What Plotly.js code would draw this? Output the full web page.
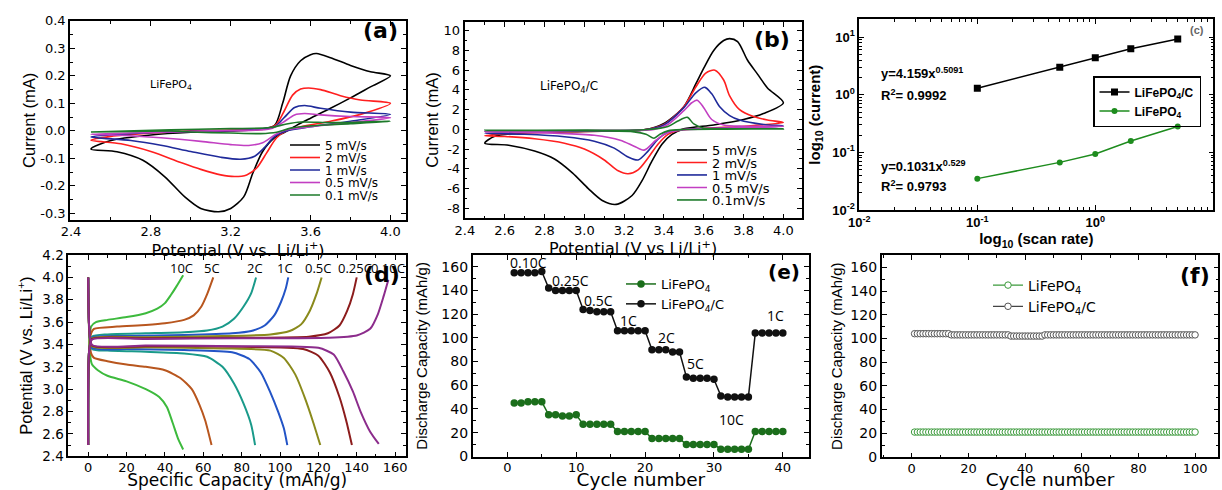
<!DOCTYPE html>
<html><head><meta charset="utf-8">
<script src="https://cdn.plot.ly/plotly-3.0.1.min.js"></script>
<style>html,body{margin:0;padding:0;background:#fff}#chart{width:1222px;height:490px}</style>
</head><body><div id="chart"></div>
<script>
// ---------------- data: (a) CV of LiFePO4 ----------------
const aNames = ['5 mV/s','2 mV/s','1 mV/s','0.5 mV/s','0.1 mV/s'];
const a5x = [2.5,2.6,2.8,3.0,3.2,3.35,3.42,3.46,3.5,3.55,3.6,3.63,3.7,3.8,3.9,4.0,3.9,3.8,3.7,3.6,3.53,3.47,3.42,3.36,3.31,3.265,3.2,3.14,3.05,2.97,2.87,2.76,2.63,2.5];
const a5y = [-0.066,-0.035,-0.015,-0.005,0.0,0.006,0.02,0.1,0.2,0.255,0.277,0.281,0.266,0.238,0.215,0.2,0.16,0.12,0.082,0.046,0.02,-0.005,-0.025,-0.075,-0.155,-0.24,-0.282,-0.294,-0.282,-0.24,-0.167,-0.107,-0.076,-0.066];
const a2x = [2.5,2.6,2.8,3.0,3.2,3.38,3.43,3.47,3.51,3.55,3.59,3.65,3.75,3.85,4.0,3.85,3.7,3.55,3.48,3.43,3.38,3.33,3.28,3.22,3.15,3.05,2.95,2.8,2.65,2.5];
const a2y = [-0.034,-0.02,-0.008,0.0,0.003,0.008,0.025,0.075,0.13,0.152,0.156,0.15,0.128,0.112,0.1,0.06,0.035,0.015,0.0,-0.025,-0.08,-0.135,-0.16,-0.166,-0.16,-0.14,-0.115,-0.075,-0.047,-0.034];
const a1x = [2.5,2.7,3.0,3.3,3.42,3.47,3.52,3.57,3.65,3.8,4.0,3.8,3.6,3.48,3.42,3.37,3.32,3.25,3.15,3.0,2.85,2.7,2.5];
const a1y = [-0.022,-0.01,-0.002,0.004,0.015,0.05,0.085,0.092,0.082,0.068,0.06,0.035,0.015,0.0,-0.02,-0.06,-0.092,-0.103,-0.096,-0.075,-0.052,-0.035,-0.022];
const a05x = [2.5,2.8,3.1,3.4,3.46,3.52,3.57,3.65,3.8,4.0,3.8,3.6,3.47,3.42,3.36,3.29,3.2,3.05,2.85,2.65,2.5];
const a05y = [-0.012,-0.006,0.0,0.008,0.03,0.058,0.063,0.058,0.052,0.048,0.03,0.015,0.002,-0.015,-0.043,-0.053,-0.05,-0.038,-0.025,-0.016,-0.012];
const a01x = [2.5,2.9,3.2,3.4,3.48,3.55,3.7,3.85,4.0,3.8,3.6,3.5,3.43,3.35,3.2,3.0,2.9,2.7,2.5];
const a01y = [-0.004,0.004,0.008,0.012,0.025,0.032,0.03,0.032,0.035,0.026,0.018,0.01,-0.005,-0.01,-0.008,-0.004,0.0,-0.002,-0.004];
const aYTickVals = [-0.3,-0.2,-0.1,0,0.1,0.2,0.3,0.4];
const aYTickText = ['-0.3','-0.2','-0.1','0.0','0.1','0.2','0.3','0.4'];

// ---------------- data: (b) CV of LiFePO4/C ----------------
const bNames = ['5 mV/s','2 mV/s','1 mV/s','0.5 mV/s','0.1mV/s'];
const b5x = [2.5,2.55,2.7,3.0,3.3,3.4,3.5,3.56,3.6,3.65,3.7,3.73,3.77,3.82,3.87,3.92,4.0,3.9,3.8,3.65,3.5,3.44,3.39,3.34,3.29,3.24,3.16,3.09,3.02,2.94,2.85,2.75,2.62,2.5];
const b5y = [-1.4,-0.7,-0.35,-0.2,-0.05,0.6,2.3,4.6,6.2,8.0,9.0,9.2,8.9,7.0,5.6,4.2,2.7,1.6,1.0,0.45,0.05,-0.5,-1.5,-3.2,-5.2,-6.7,-7.6,-7.2,-6.0,-4.4,-3.0,-2.2,-1.6,-1.4];
const b2x = [2.5,2.6,2.8,3.0,3.3,3.4,3.5,3.56,3.61,3.656,3.7,3.73,3.78,3.85,3.92,4.0,3.85,3.7,3.55,3.47,3.42,3.37,3.32,3.27,3.22,3.17,3.1,3.0,2.9,2.75,2.6,2.5];
const b2y = [-0.65,-0.45,-0.3,-0.2,-0.05,0.5,2.3,4.3,5.7,6.0,5.0,3.4,2.0,1.3,0.95,0.7,0.4,0.2,0.05,-0.1,-0.5,-1.5,-2.9,-4.1,-4.5,-4.2,-3.1,-2.0,-1.4,-0.95,-0.72,-0.65];
const b1x = [2.5,2.7,3.0,3.3,3.4,3.5,3.56,3.606,3.64,3.68,3.73,3.78,3.9,4.0,3.8,3.6,3.48,3.42,3.37,3.32,3.27,3.22,3.15,3.05,2.9,2.7,2.5];
const b1y = [-0.4,-0.28,-0.16,-0.05,0.45,2.2,3.7,4.26,3.6,2.3,1.4,0.95,0.5,0.35,0.2,0.08,-0.05,-0.3,-1.0,-2.2,-3.1,-2.8,-1.9,-1.2,-0.75,-0.5,-0.4];
const b05x = [2.5,2.8,3.1,3.35,3.42,3.5,3.54,3.567,3.6,3.64,3.7,3.8,4.0,3.8,3.6,3.47,3.41,3.36,3.3,3.25,3.18,3.05,2.85,2.65,2.5];
const b05y = [-0.25,-0.18,-0.1,0.0,0.5,1.9,2.7,2.96,2.2,1.0,0.45,0.32,0.3,0.18,0.05,-0.1,-0.4,-1.1,-2.1,-1.7,-1.1,-0.6,-0.38,-0.28,-0.25];
const b01x = [2.5,3.0,3.3,3.42,3.47,3.517,3.55,3.6,3.7,4.0,3.7,3.5,3.42,3.38,3.35,3.31,3.25,3.1,2.9,2.5];
const b01y = [-0.1,-0.08,-0.04,0.3,0.85,1.22,0.55,0.12,0.06,0.05,0.02,-0.02,-0.15,-0.5,-0.9,-0.5,-0.25,-0.15,-0.12,-0.1];
const bYTickVals = [-8,-6,-4,-2,0,2,4,6,8,10];
const bYTickText = ['-8','-6','-4','-2','0','2','4','6','8','10'];
const cvColors = ['#000000','#ff1f1f','#1f2a9a','#c23fc2','#1d7a2a'];

// ---------------- data: (c) peak current vs scan rate ----------------
const cRate = [0.1,0.5,1,2,5];
const cCurrC = [1.3,3.0,4.4,6.3,9.3];
const cCurr = [0.035,0.067,0.094,0.157,0.282];
const cNames = ['LiFePO<sub>4</sub>/C','LiFePO<sub>4</sub>'];
const cTickVals = [0.01,0.1,1,10];
const cTickText = ['10<sup>-2</sup>','10<sup>-1</sup>','10<sup>0</sup>','10<sup>1</sup>'];

// ---------------- data: (d) charge / discharge profiles ----------------
const dRates = ['10C','5C','2C','1C','0.5C','0.25C','0.10C'];
const dColors = ['#3dba3d','#b8561e','#1a9a8a','#2354c6','#8a8a1c','#8c1c1c','#8c2c8c'];
const d10cx = [0,0.3,1.5,4,10,20,30,36,40,43,46,49.5];
const d10cy = [2.5,3.3,3.56,3.6,3.62,3.645,3.68,3.72,3.77,3.84,3.92,4.02];
const d10dx = [0,0.3,1,2,5,10,20,30,37,41,44,47,49.5];
const d10dy = [4.0,3.6,3.3,3.22,3.17,3.12,3.07,3.0,2.93,2.84,2.7,2.55,2.46];
const d5cx = [0,0.3,1.5,3,15,30,40,50,55,59,62,65.2];
const d5cy = [2.5,3.3,3.5,3.54,3.56,3.575,3.59,3.62,3.66,3.74,3.85,4.0];
const d5dx = [0,0.3,1.5,3,10,20,30,40,48,54,58,61,64.3];
const d5dy = [4.0,3.6,3.32,3.28,3.25,3.22,3.2,3.17,3.1,3.0,2.86,2.72,2.5];
const d2cx = [0,0.5,2,10,30,50,62,70,76,81,85,87.5];
const d2cy = [2.5,3.35,3.47,3.49,3.5,3.51,3.525,3.56,3.63,3.74,3.86,4.0];
const d2dx = [0,0.5,2,10,30,50,62,70,76,81,85,87];
const d2dy = [4.0,3.55,3.36,3.345,3.335,3.32,3.29,3.2,3.05,2.87,2.68,2.5];
const d1cx = [0,0.5,2,20,50,75,85,92,97,100.5,103,104.3];
const d1cy = [2.5,3.35,3.46,3.475,3.485,3.5,3.52,3.57,3.66,3.78,3.9,4.0];
const d1dx = [0,0.5,2,20,50,75,84,90,95,99,102,103.8];
const d1dy = [4.0,3.55,3.37,3.36,3.35,3.33,3.27,3.15,2.97,2.8,2.65,2.5];
const d05cx = [0,0.5,2,30,70,95,105,111,115.5,119,121.7];
const d05cy = [2.5,3.35,3.455,3.465,3.475,3.49,3.52,3.58,3.7,3.85,4.0];
const d05dx = [0,0.5,2,30,70,95,102,108,113,117,121];
const d05dy = [4.0,3.55,3.385,3.375,3.365,3.345,3.28,3.13,2.92,2.72,2.5];
const d025cx = [0,0.5,2,30,80,115,125,131,135,138,140];
const d025cy = [2.5,3.35,3.45,3.455,3.46,3.47,3.5,3.57,3.7,3.85,4.0];
const d025dx = [0,0.5,2,30,80,112,120,126,131,134.5,137.5];
const d025dy = [4.0,3.55,3.39,3.385,3.38,3.36,3.3,3.15,2.93,2.72,2.5];
const d01cx = [0,0.5,2,30,80,125,140,147,151,154,156.5];
const d01cy = [2.5,3.35,3.445,3.45,3.455,3.46,3.48,3.54,3.67,3.83,3.98];
const d01dx = [0,0.5,2,30,80,120,128,133,138,142,147,151.5];
const d01dy = [4.0,3.55,3.395,3.39,3.385,3.37,3.31,3.16,2.98,2.8,2.62,2.51];
const dLabelX = [48.7,64.3,87.0,102.6,120.0,139.0,156.5];

// ---------------- data: (e) rate capability ----------------
const eCycle = [1,2,3,4,5,6,7,8,9,10,11,12,13,14,15,16,17,18,19,20,21,22,23,24,25,26,27,28,29,30,31,32,33,34,35,36,37,38,39,40];
const eCapC = [155,155,155,155,156,142,140,140,140,140,124,123,122,122,122,106,106,106,106,106,90,90,90,88,88,67,66,66,66,65,51,50,50,50,50,104,104,104,104,104];
const eCap = [45,45,46,46,46,35,35,34,34,35,27,27,27,27,27,21,21,21,21,21,15,15,15,15,15,10,10,10,10,10,6,6,6,6,6,21,21,21,21,21];
const eLabels = ['0.10C','0.25C','0.5C','1C','2C','5C','10C','1C'];
const eLabelX = [3.05,9.1,13.2,17.6,23.05,27.3,32.6,38.9];
const eLabelY = [163.4,148.8,131.9,114.5,100.5,78.0,31.4,118.5];

// ---------------- data: (f) cycling at 1C ----------------
const fCycle = [1,2,3,4,5,6,7,8,9,10,11,12,13,14,15,16,17,18,19,20,21,22,23,24,25,26,27,28,29,30,31,32,33,34,35,36,37,38,39,40,41,42,43,44,45,46,47,48,49,50,51,52,53,54,55,56,57,58,59,60,61,62,63,64,65,66,67,68,69,70,71,72,73,74,75,76,77,78,79,80,81,82,83,84,85,86,87,88,89,90,91,92,93,94,95,96,97,98,99,100];
const fCapC = [104,104,104,104,104,104,104,104,104,104,104,104,104,103,103,103,103,103,103,103,103,103,103,103,103,103,103,103,103,103,103,103,103,103,102,102,102,102,102,102,102,102,102,102,102,102,103,103,103,103,103,103,103,103,103,103,103,103,103,103,103,103,103,103,103,103,103,103,103,103,103,103,103,103,103,103,103,103,103,103,103,103,103,103,103,103,103,103,103,103,103,103,103,103,103,103,103,103,103,103];
const fCap = [21,21,21,21,21,21,21,21,21,21,21,21,21,21,21,21,21,21,21,21,21,21,21,21,21,21,21,21,21,21,21,21,21,21,21,21,21,21,21,21,21,21,21,21,21,21,21,21,21,21,21,21,21,21,21,21,21,21,21,21,21,21,21,21,21,21,21,21,21,21,21,21,21,21,21,21,21,21,21,21,21,21,21,21,21,21,21,21,21,21,21,21,21,21,21,21,21,21,21,21];
const matNames = ['LiFePO<sub>4</sub>','LiFePO<sub>4</sub>/C'];

// ---------------- helpers ----------------
const W = 1222, H = 490;
const PX = v => v / W, PY = v => 1 - v / H;
const FW = 'DejaVu Sans, sans-serif';
const FA = 'Liberation Sans, Arial, sans-serif';
const FC = 'Open Sans, sans-serif';

function mkAxis(o) {
  const a = {
    domain: o.domain, range: o.range, anchor: o.anchor, type: o.type || 'linear',
    showline: true, linecolor: '#000', linewidth: 1.6, mirror: 'ticks',
    ticks: 'inside', ticklen: 5, tickwidth: 1.3, tickcolor: '#000',
    showgrid: false, zeroline: false, automargin: false,
    tickfont: o.tickfont,
    minor: Object.assign({ticks: 'inside', ticklen: 3, tickwidth: 1, tickcolor: '#000', showgrid: false}, o.minor || {}),
    title: {text: o.title, font: o.titlefont, standoff: o.standoff}
  };
  if (o.dtick !== undefined) a.dtick = o.dtick;
  if (o.tick0 !== undefined) a.tick0 = o.tick0;
  if (o.tickformat) a.tickformat = o.tickformat;
  if (o.tls !== undefined) a.ticklabelstandoff = o.tls;
  if (o.tickvals) { a.tickmode = 'array'; a.tickvals = o.tickvals; a.ticktext = o.ticktext; }
  return a;
}

const traces = [];
const legends = {};
let legIdx = 0;
function newLegend(cfg) {
  legIdx += 1;
  const key = legIdx === 1 ? 'legend' : 'legend' + legIdx;
  legends[key] = Object.assign({bgcolor: 'rgba(0,0,0,0)', borderwidth: 0, itemwidth: 30, tracegroupgap: 0}, cfg);
  return key;
}

// (a) traces
const aX = [a5x, a2x, a1x, a05x, a01x], aY = [a5y, a2y, a1y, a05y, a01y];
const aRows = [145, 157.5, 170, 182.5, 195];
aNames.forEach((n, i) => {
  const lg = newLegend({x: PX(285), y: PY(aRows[i]), xanchor: 'left', yanchor: 'middle', font: {family: FW, size: 12, color: '#000'}});
  traces.push({x: aX[i], y: aY[i], name: n, legend: lg, mode: 'lines', xaxis: 'x', yaxis: 'y',
    line: {color: cvColors[i], width: 1.6, shape: 'spline', smoothing: 0.8}});
});
// (b) traces
const bX = [b5x, b2x, b1x, b05x, b01x], bY = [b5y, b2y, b1y, b05y, b01y];
const bRows = [150, 162.5, 175, 187.5, 200];
bNames.forEach((n, i) => {
  const lg = newLegend({x: PX(672), y: PY(bRows[i]), xanchor: 'left', yanchor: 'middle', font: {family: FW, size: 13, color: '#000'}});
  traces.push({x: bX[i], y: bY[i], name: n, legend: lg, mode: 'lines', xaxis: 'x2', yaxis: 'y2',
    line: {color: cvColors[i], width: 1.6, shape: 'spline', smoothing: 0.8}});
});
// (c) traces
const lgC = newLegend({x: PX(1093), y: PY(76), xanchor: 'left', yanchor: 'top', bordercolor: '#000', borderwidth: 1.5,
  font: {family: FA, size: 12, color: '#000', weight: 700}});
traces.push({x: cRate, y: cCurrC, name: cNames[0], legend: lgC, mode: 'lines+markers', xaxis: 'x3', yaxis: 'y3',
  line: {color: '#000', width: 1.5}, marker: {symbol: 'square', size: 7, color: '#000'}});
traces.push({x: cRate, y: cCurr, name: cNames[1], legend: lgC, mode: 'lines+markers', xaxis: 'x3', yaxis: 'y3',
  line: {color: '#1e8c1e', width: 1.5}, marker: {symbol: 'circle', size: 6, color: '#1e8c1e'}});
// (d) traces
const dC = [[d10cx,d10cy],[d5cx,d5cy],[d2cx,d2cy],[d1cx,d1cy],[d05cx,d05cy],[d025cx,d025cy],[d01cx,d01cy]];
const dD = [[d10dx,d10dy],[d5dx,d5dy],[d2dx,d2dy],[d1dx,d1dy],[d05dx,d05dy],[d025dx,d025dy],[d01dx,d01dy]];
dRates.forEach((r, i) => {
  [dC[i], dD[i]].forEach(p => {
    traces.push({x: p[0], y: p[1], name: r, showlegend: false, mode: 'lines', xaxis: 'x4', yaxis: 'y4',
      line: {color: dColors[i], width: 2, shape: 'spline', smoothing: 0.6}});
  });
});
// (e) traces
const lgE = newLegend({x: PX(621), y: PY(294), xanchor: 'left', yanchor: 'middle', font: {family: FW, size: 13, color: '#000'}});
traces.push({x: eCycle, y: eCap, name: matNames[0], legend: lgE, mode: 'lines+markers', xaxis: 'x5', yaxis: 'y5',
  line: {color: '#1b6e1b', width: 1.5}, marker: {symbol: 'circle', size: 7.5, color: '#1b6e1b'}});
traces.push({x: eCycle, y: eCapC, name: matNames[1], legend: lgE, mode: 'lines+markers', xaxis: 'x5', yaxis: 'y5',
  line: {color: '#111', width: 1.5}, marker: {symbol: 'circle', size: 7.5, color: '#111'}});
// (f) traces
const lgF = newLegend({x: PX(988), y: PY(296), xanchor: 'left', yanchor: 'middle', font: {family: FW, size: 14, color: '#000'}});
traces.push({x: fCycle, y: fCap, name: matNames[0], legend: lgF, mode: 'lines+markers', xaxis: 'x6', yaxis: 'y6',
  line: {color: '#3b9a3b', width: 1.2}, marker: {symbol: 'circle', size: 6.5, color: '#fff', line: {color: '#3b9a3b', width: 1}}});
traces.push({x: fCycle, y: fCapC, name: matNames[1], legend: lgF, mode: 'lines+markers', xaxis: 'x6', yaxis: 'y6',
  line: {color: '#444', width: 1.2}, marker: {symbol: 'circle', size: 6.5, color: '#fff', line: {color: '#555', width: 1}}});

// ---------------- axes ----------------
const tf13 = {family: FW, size: 13, color: '#000'};
const tf135 = {family: FW, size: 13.5, color: '#000'};
const tf14 = {family: FW, size: 14, color: '#000'};
const ttx16 = {family: FW, size: 16, color: '#000'};
const tty16 = {family: FA, size: 16.5, color: '#000'};
const tty15 = {family: FA, size: 15, color: '#000'};
const tfc = {family: FA, size: 13, color: '#000', weight: 700};
const ttc = {family: FA, size: 15, color: '#000', weight: 700};
const ttBot = {family: FW, size: 18.5, color: '#000'};

const layout = Object.assign({
  width: W, height: H, margin: {l: 0, r: 0, t: 0, b: 0},
  paper_bgcolor: '#fff', plot_bgcolor: 'rgba(0,0,0,0)', showlegend: true,
  xaxis: mkAxis({domain: [PX(70), PX(406)], range: [2.395, 4.078], anchor: 'y', dtick: 0.4, tick0: 2.4, tickformat: '.1f', tls: -1,
    minor: {dtick: 0.2}, tickfont: tf13, title: 'Potential (V vs. Li/Li<sup>+</sup>)', titlefont: ttx16, standoff: 0}),
  yaxis: mkAxis({domain: [PY(220), PY(20.7)], range: [-0.324, 0.4005], anchor: 'x',
    tickvals: aYTickVals, ticktext: aYTickText,
    minor: {dtick: 0.05, tick0: 0}, tickfont: tf13, title: 'Current (mA)', titlefont: tty16, standoff: 0}),
  xaxis2: mkAxis({domain: [PX(464.5), PX(801.7)], range: [2.398, 4.092], anchor: 'y2', dtick: 0.2, tick0: 2.4, tickformat: '.1f', tls: -1,
    minor: {dtick: 0.1}, tickfont: tf13, title: 'Potential (V vs Li/Li<sup>+</sup>)', titlefont: ttx16, standoff: 0}),
  yaxis2: mkAxis({domain: [PY(218.3), PY(21.7)], range: [-9.01, 10.91], anchor: 'x2',
    tickvals: bYTickVals, ticktext: bYTickText,
    minor: {dtick: 1, tick0: 0}, tickfont: tf13, title: 'Current (mA)', titlefont: tty16, standoff: 1}),
  xaxis3: mkAxis({domain: [PX(859.3), PX(1213.3)], range: [-2.0005, 1.0005], anchor: 'y3', type: 'log',
    tickvals: cTickVals, ticktext: cTickText, minor: {dtick: 'D1'},
    tickfont: tfc, title: 'log<sub>10</sub> (scan rate)', titlefont: ttc, standoff: 4}),
  yaxis3: mkAxis({domain: [PY(210), PY(19.3)], range: [-2.0005, 1.31], anchor: 'x3', type: 'log',
    tickvals: cTickVals, ticktext: cTickText, minor: {dtick: 'D1'},
    tickfont: tfc, title: 'log<sub>10</sub> (current)', titlefont: ttc, standoff: 8}),
  xaxis4: mkAxis({domain: [PX(68.3), PX(406)], range: [-10.4, 165.7], anchor: 'y4', dtick: 20, tick0: 0, tls: -2,
    minor: {dtick: 10}, tickfont: tf13, title: 'Specific Capacity (mAh/g)', titlefont: {family: FW, size: 17, color: '#000'}, standoff: 0}),
  yaxis4: mkAxis({domain: [PY(456.3), PY(255)], range: [2.3995, 4.2005], anchor: 'x4', dtick: 0.2, tick0: 2.4, tickformat: '.1f',
    minor: {dtick: 0.1}, tickfont: tf135, title: 'Potential (V vs. Li/Li<sup>+</sup>)', titlefont: tty16, standoff: 6}),
  xaxis5: mkAxis({domain: [PX(472.7), PX(809)], range: [-5.03, 43.8], anchor: 'y5', dtick: 10, tick0: 0, tls: -2,
    minor: {dtick: 5}, tickfont: tf13, title: 'Cycle number', titlefont: ttBot, standoff: 2}),
  yaxis5: mkAxis({domain: [PY(456.7), PY(255)], range: [-0.3, 169.9], anchor: 'x5', dtick: 20, tick0: 0,
    minor: {dtick: 10}, tickfont: tf14, title: 'Discharge Capacity (mAh/g)', titlefont: tty15, standoff: 10}),
  xaxis6: mkAxis({domain: [PX(881.7), PX(1218.3)], range: [-10.6, 108.2], anchor: 'y6', dtick: 20, tick0: 0, tls: -2,
    minor: {dtick: 10}, tickfont: tf13, title: 'Cycle number', titlefont: ttBot, standoff: 2}),
  yaxis6: mkAxis({domain: [PY(457.3), PY(255)], range: [-0.3, 170.4], anchor: 'x6', dtick: 20, tick0: 0,
    minor: {dtick: 10}, tickfont: tf14, title: 'Discharge Capacity (mAh/g)', titlefont: tty15, standoff: 4})
}, legends);

// ---------------- annotations ----------------
const ann = [];
function pAnn(text, x, y, font, xa) {
  ann.push({text: text, x: PX(x), y: PY(y), xref: 'paper', yref: 'paper', showarrow: false,
    xanchor: xa || 'center', yanchor: 'middle', font: font});
}
pAnn('LiFePO<sub>4</sub>', 148, 85, {family: FW, size: 11, color: '#000'}, 'left');
pAnn('LiFePO<sub>4</sub>/C', 538, 87, {family: FW, size: 12, color: '#000'}, 'left');
const fitFont = {family: FA, size: 13, color: '#000', weight: 700};
pAnn('y=4.159x<sup>0.5091</sup>', 879, 73, fitFont, 'left');
pAnn('R<sup>2</sup>= 0.9992', 879, 95, fitFont, 'left');
pAnn('y=0.1031x<sup>0.529</sup>', 879, 166, fitFont, 'left');
pAnn('R<sup>2</sup>= 0.9793', 879, 186, fitFont, 'left');
pAnn('(c)', 1197, 30, {family: FA, size: 11, color: '#666', weight: 700});
dRates.forEach((r, i) => {
  ann.push({text: r, x: dLabelX[i], y: 4.08, xref: 'x4', yref: 'y4', showarrow: false, xanchor: 'center', yanchor: 'middle',
    font: {family: FC, size: 13, color: '#000'}});
});
eLabels.forEach((r, i) => {
  ann.push({text: r, x: eLabelX[i], y: eLabelY[i], xref: 'x5', yref: 'y5', showarrow: false, xanchor: 'center', yanchor: 'middle',
    font: {family: FC, size: 14, color: '#000'}});
});
const panelFont = {family: 'DejaVu Sans, sans-serif', size: 22, color: '#000', weight: 700};
pAnn('(a)', 380, 31, panelFont);
pAnn('(b)', 772, 40, panelFont);
pAnn('(d)', 382, 274, panelFont);
pAnn('(e)', 784, 272, Object.assign({}, panelFont, {size: 20}));
pAnn('(f)', 1195, 275, panelFont);
layout.annotations = ann;

Plotly.newPlot('chart', traces, layout, {displayModeBar: false, responsive: false});
</script></body></html>
